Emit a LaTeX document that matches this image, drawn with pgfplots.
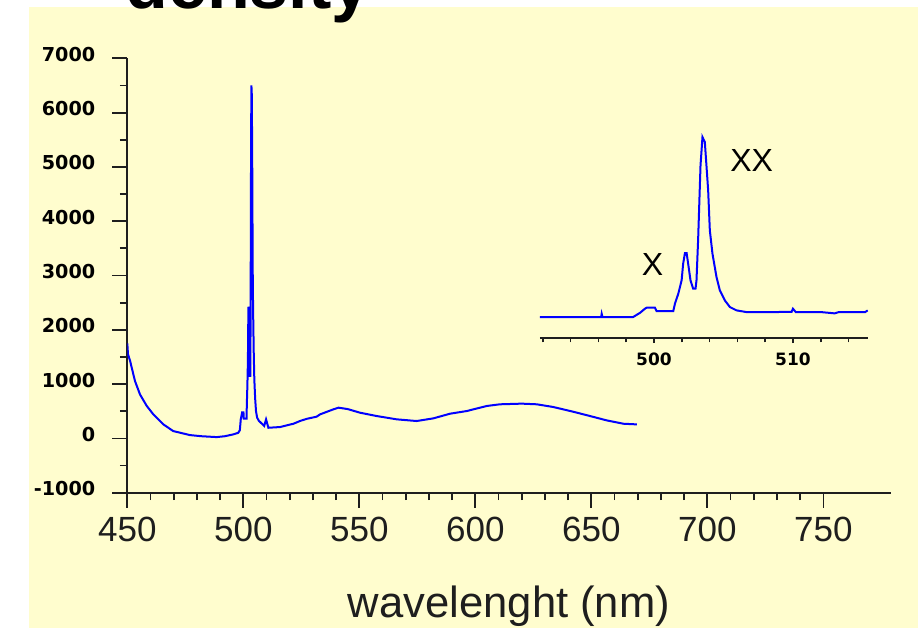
\documentclass[border=0pt]{standalone}
\usepackage{fontspec}
\setmainfont{Liberation Sans}
\newfontfamily\pixfont{DejaVu Sans}
\usepackage{pgfplots}
\pgfplotsset{compat=1.18}
\definecolor{bgyellow}{RGB}{255,253,206}
\definecolor{specblue}{RGB}{0,0,255}
\definecolor{axisgray}{RGB}{30,30,30}

\pgfplotstableread{
x y
450 1750
450.3 1550
451.2 1428
453.3 1058
455.5 807
458.4 597
461.2 443
465.5 259
469.8 135
477 61
482 40
488.5 24
492 40
495.7 74
497.8 103
498.5 150
498.9 351
499.35 444
499.47 479
500.07 479
500.19 362
501.39 362
501.51 620
501.75 973
501.99 1444
502.1 2032
502.23 2408
502.35 2408
502.46 2032
502.63 1444
502.82 1150
502.99 1150
503.06 1444
503.18 2914
503.35 5501
503.49 6500
503.66 6324
503.9 4619
504.02 3208
504.21 2384
504.5 1561
504.74 1091
505.1 738
505.46 503
505.94 385
506.65 326
509 230
509.8 351
510.8 196
515.8 209
521.6 270
524.4 320
527.3 360
531.6 400
533.1 443
538.8 535
541 566
545 540
550.3 473
557.5 412
566.1 351
574.7 320
581.9 369
589.1 455
596.3 504
604.9 597
610.6 628
620 640
626.5 628
633.6 578
642.2 491
649.4 412
656.6 332
663.8 270
669.6 258
}\mainspec

\pgfplotstableread{
x y
491.8 150
496.2 150
496.24 267
496.3 150
498.5 150
499.0 300
499.35 444
499.47 479
500.07 479
500.19 362
501.39 362
501.51 620
501.75 973
501.99 1444
502.1 2032
502.23 2408
502.35 2408
502.46 2032
502.63 1444
502.82 1150
502.99 1150
503.06 1444
503.18 2914
503.35 5501
503.49 6500
503.66 6324
503.9 4619
504.02 3208
504.21 2384
504.5 1561
504.74 1091
505.1 738
505.46 503
505.94 385
506.65 326
508 326
509.9 330
510.0 444
510.2 326
512 326
513 280
513.3 326
515.2 326
515.38 385
}\insetspec

\begin{document}
\begin{tikzpicture}
\clip (0,0) rectangle (459pt,314pt);
\fill[white] (0,0) rectangle (459pt,314pt);
\fill[bgyellow] (14.5pt,0) rectangle (459pt,310.5pt);
\node[anchor=base west, inner sep=0, font=\fontsize{35}{40}\selectfont\bfseries] at (62.5pt,309.5pt) {density};

\begin{axis}[
  at={(63.65pt,67.65pt)}, anchor=south west,
  scale only axis, width=381.7pt, height=217.2pt,
  xmin=450, xmax=779, ymin=-1000, ymax=7000,
  axis x line=bottom, axis y line=left,
  axis line style={-, line width=1pt, axisgray},
  xtick={450,500,...,750},
  xticklabels={450,500,550,600,650,700,750},
  minor x tick num=4,
  ytick={-1000,0,...,7000},
  yticklabels={-1000,0,1000,2000,3000,4000,5000,6000,7000},
  minor y tick num=1,
  scaled y ticks=false,
  tick align=outside,
  major tick length=7.5pt, minor tick length=3.75pt,
  every tick/.style={axisgray, line width=0.9pt},
  xticklabel style={font=\fontsize{17.5}{20}\selectfont, text=axisgray, yshift=-1pt},
  yticklabel style={font=\pixfont\bfseries\fontsize{9.6}{11}\selectfont, yshift=2pt, xshift=-5pt},
  xlabel={wavelenght (nm)},
  xlabel style={font=\fontsize{21.8}{26}\selectfont, text=axisgray, at={(axis description cs:0.5,0)}, anchor=base, yshift=-62.15pt, inner sep=0},
]
\addplot[specblue, line width=1pt, mark=none] table[x=x,y=y] {\mainspec};
\end{axis}

\begin{axis}[
  at={(270pt,144.85pt)}, anchor=south west,
  scale only axis, width=164pt, height=104.15pt,
  xmin=491.8, xmax=515.4, ymin=-600, ymax=6750,
  axis x line=bottom, axis y line=none,
  axis line style={-, line width=0.9pt, axisgray},
  xtick={500,510}, xticklabels={500,510},
  minor xtick={492,494,...,514},
  ytick=\empty,
  tick align=outside,
  major tick length=2.4pt, minor tick length=2pt,
  every tick/.style={axisgray, line width=0.8pt},
  xticklabel style={font=\pixfont\bfseries\fontsize{8.5}{10}\selectfont, yshift=-1.6pt},
]
\addplot[specblue, line width=1pt, mark=none] table[x=x,y=y] {\insetspec};
\end{axis}

\node[font=\fontsize{16}{19}\selectfont, inner sep=0] at (326.25pt,182pt) {X};
\node[font=\fontsize{16}{19}\selectfont, inner sep=0] at (375.85pt,233.85pt) {XX};
\end{tikzpicture}
\end{document}
